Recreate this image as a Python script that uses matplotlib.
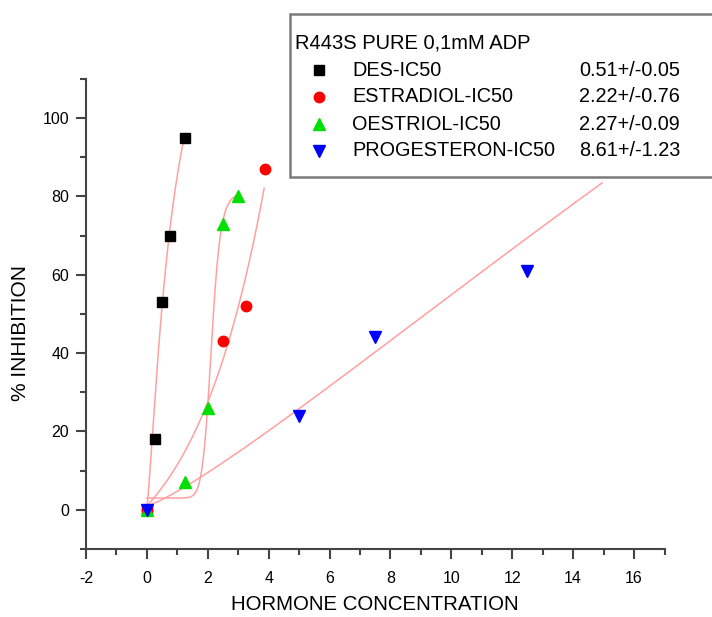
import numpy as np
import matplotlib
matplotlib.use("Agg")
import matplotlib.pyplot as plt
from matplotlib.patches import Rectangle
from matplotlib.ticker import MultipleLocator

plt.rcParams["font.family"] = ["Liberation Sans", "DejaVu Sans"]
plt.rcParams["axes.unicode_minus"] = False

# Measured inhibition for each hormone
des_x = [0.0, 0.25, 0.5, 0.75, 1.25]
des_y = [0.0, 18.0, 53.0, 70.0, 95.0]
estradiol_x = [0.0, 2.5, 3.25, 3.875]
estradiol_y = [0.0, 43.0, 52.0, 87.0]
oestriol_x = [0.0, 1.25, 2.0, 2.5, 3.0]
oestriol_y = [0.0, 7.0, 26.0, 73.0, 80.0]
progesteron_x = [0.0, 5.0, 7.5, 12.5]
progesteron_y = [0.0, 24.0, 44.0, 61.0]

# Fit curve parameters
des_fit = (1.0, 153.0, 0.842, 1.3)            # logistic: A1, A2, x0, p
estradiol_fit = (-19.4, 20.4, 2.4)            # exponential growth: y0, A, t
oestriol_fit = (3.0, 81.0, 2.12, 14.0)        # logistic: A1, A2, x0, p
progesteron_fit = (1.0, 561.0, 64.6, 1.2)     # logistic: A1, A2, x0, p
fit_ranges = [(0.0, 1.22), (0.0, 3.85), (0.0, 3.0), (0.0, 14.95)]

legend_title = "R443S PURE 0,1mM ADP"
legend_names = ["DES-IC50", "ESTRADIOL-IC50", "OESTRIOL-IC50", "PROGESTERON-IC50"]
legend_values = ["0.51+/-0.05", "2.22+/-0.76", "2.27+/-0.09", "8.61+/-1.23"]


def logistic(x, a1, a2, x0, p):
    r = (np.asarray(x) / x0) ** p
    return a2 + (a1 - a2) / (1.0 + r)


def exp_growth(x, y0, a, t):
    return y0 + a * np.exp(np.asarray(x) / t)


fig = plt.figure(figsize=(7.12, 6.17), dpi=100)
ax = fig.add_axes([0.1208, 0.1102, 0.8125, 0.7618])

fit_color = "#ffa0a0"
models = [(logistic, des_fit), (exp_growth, estradiol_fit),
          (logistic, oestriol_fit), (logistic, progesteron_fit)]
for (func, params), (lo, hi) in zip(models, fit_ranges):
    xs = np.linspace(lo, hi, 400)
    ax.plot(xs, func(xs, *params), color=fit_color, lw=1.1, zorder=2)

styles = [
    (des_x, des_y, "s", "black", 6.5),
    (estradiol_x, estradiol_y, "o", "#ff0000", 7.5),
    (oestriol_x, oestriol_y, "^", "#00e000", 8.5),
    (progesteron_x, progesteron_y, "v", "#0000ff", 8.5),
]
for xs, ys, m, c, ms in styles:
    ax.plot(xs, ys, linestyle="none", marker=m, color=c, ms=ms, mec=c, zorder=3)

ax.set_xlim(-2, 17)
ax.set_ylim(-10, 110)
ax.xaxis.set_major_locator(MultipleLocator(2))
ax.xaxis.set_minor_locator(MultipleLocator(1))
ax.yaxis.set_minor_locator(MultipleLocator(10))
ax.set_yticks([0, 20, 40, 60, 80, 100])

for side in ["top", "right"]:
    ax.spines[side].set_visible(False)
for side in ["left", "bottom"]:
    ax.spines[side].set_color("#444444")
    ax.spines[side].set_linewidth(1.5)
ax.tick_params(which="major", direction="out", length=7, width=1.5, color="#444444",
               labelsize=11.5)
ax.tick_params(axis="x", which="major", pad=9)
ax.tick_params(axis="y", which="major", pad=5)
ax.tick_params(which="minor", direction="out", length=4, width=1.5, color="#444444")

ax.set_xlabel("HORMONE CONCENTRATION", fontsize=14.7)
ax.xaxis.set_label_coords(0.5, -0.098)
ax.set_ylabel("% INHIBITION", fontsize=15)
ax.yaxis.set_label_coords(-0.097, 0.46)

# Legend box with fit results
box = Rectangle((290 / 712, 1 - 177 / 617), 0.6, (177 - 14) / 617, transform=fig.transFigure,
                facecolor="white", edgecolor="#7a7a7a", lw=1.8, zorder=5, clip_on=False)
fig.patches.append(box)
fig.text(295 / 712, 1 - 43 / 617, legend_title, fontsize=14.5, va="center", ha="left", zorder=6)
row_y = [70, 97, 124, 151]
for i, (name, val) in enumerate(zip(legend_names, legend_values)):
    yy = 1 - row_y[i] / 617
    _, _, m, c, ms = styles[i]
    fig.lines.append(plt.Line2D([319 / 712], [yy], marker=m, color=c, mec=c, ms=ms,
                                transform=fig.transFigure, zorder=6))
    fig.text(352 / 712, yy, name, fontsize=14.3, va="center", ha="left", zorder=6)
    fig.text(680 / 712, yy, val, fontsize=14.3, va="center", ha="right", zorder=6)

fig.savefig("out.png", dpi=100)
